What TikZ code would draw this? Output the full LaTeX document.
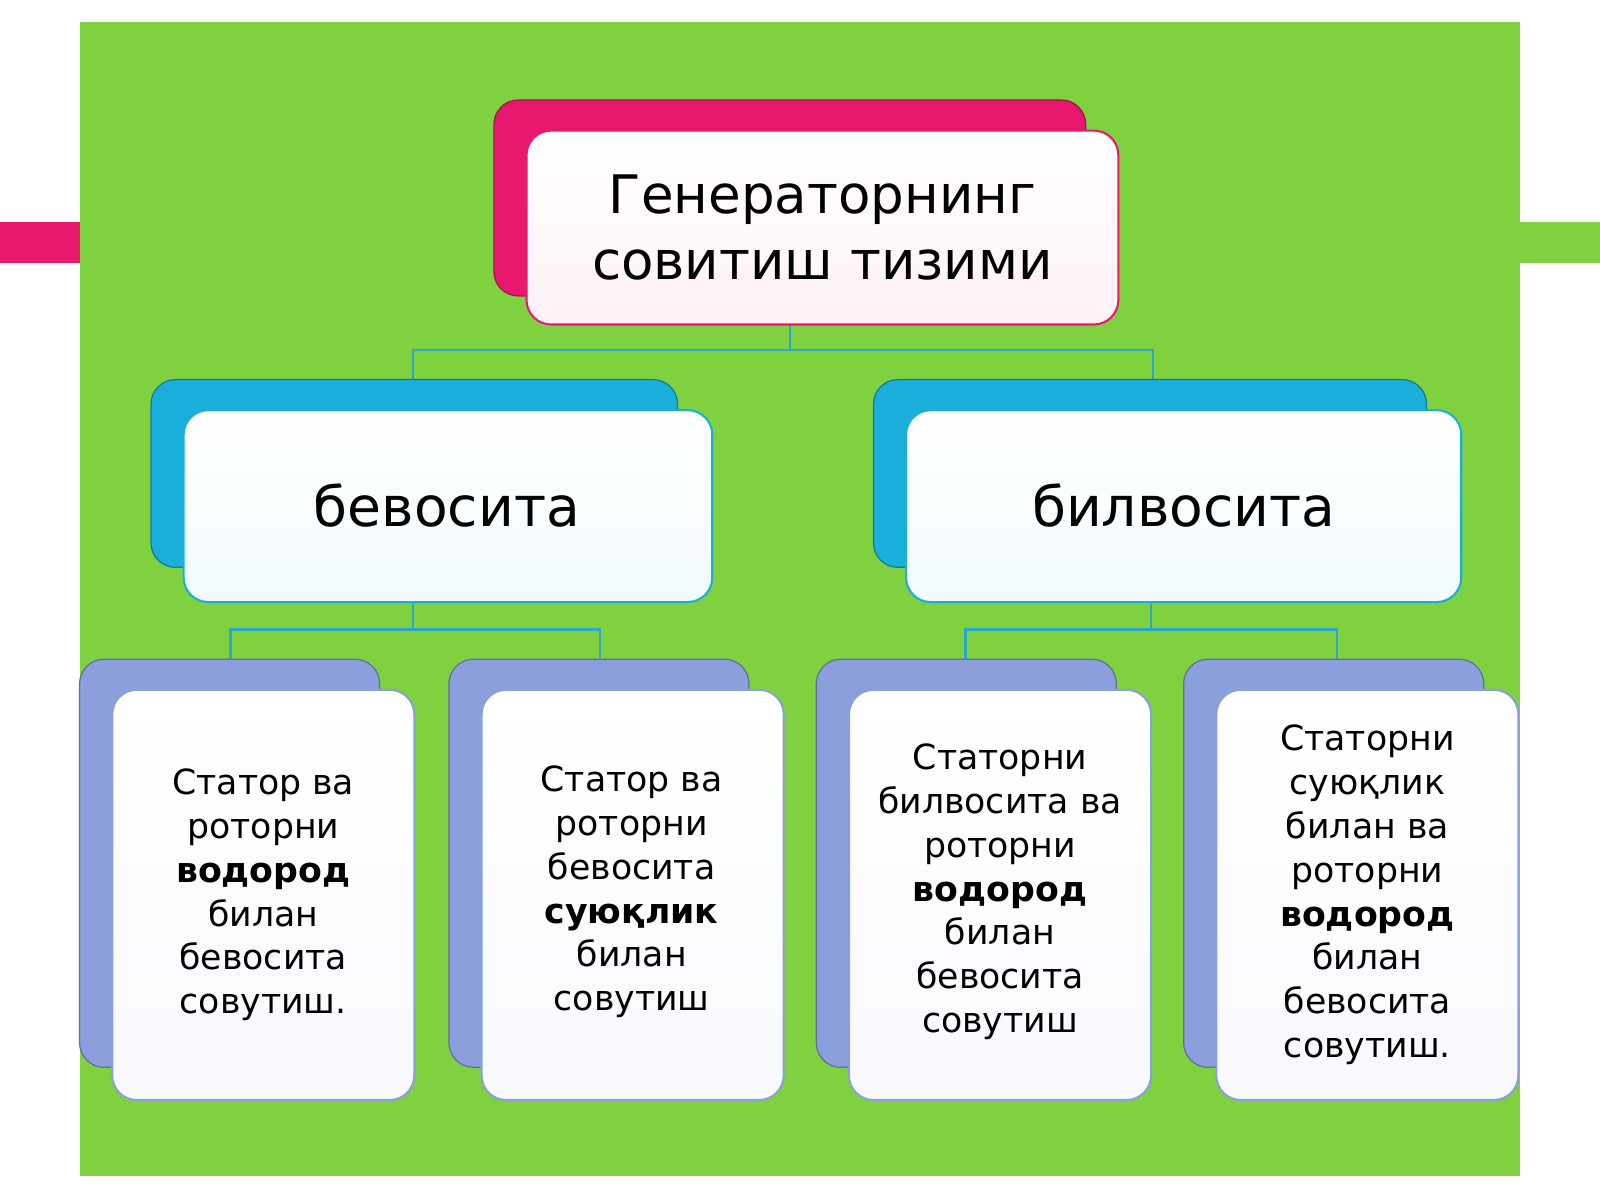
\documentclass[tikz,border=0pt]{standalone}
\usepackage{fontspec}
\setmainfont{DejaVu Sans}
\usetikzlibrary{positioning}
\definecolor{bggreen}{HTML}{7FD13F}
\definecolor{topback}{HTML}{E8186F}
\definecolor{midback}{HTML}{1AAEDB}
\definecolor{lowback}{HTML}{8A9FDB}
\definecolor{linkcol}{HTML}{2AA7C9}
\tikzset{
  back/.style={rounded corners=12pt,draw=#1!70!black,line width=0.6pt,fill=#1},
  front/.style={rounded corners=12pt,draw=#1,line width=1pt,top color=white,bottom color=white!94!#1},
  link/.style={linkcol,line width=1.2pt},
  txt/.style={align=center,font=\fontsize{17}{21.5}\selectfont}
}
\begin{document}
\begin{tikzpicture}[x=0.5pt,y=-0.5pt]
\useasboundingbox (0,0) rectangle (1568,1176);
    %Fondo
    \fill[white] (0,0) rectangle (1568,1176);
    \fill[topback] (0,218) rectangle (78,258);
    \fill[bggreen] (1490,218) rectangle (1568,258);
    \fill[bggreen] (78,22) rectangle (1490,1152);

    %Conectores
    \coordinate (t) at (774,318);
    \coordinate (tl) at (405,372);
    \coordinate (tr) at (1130,372);
    \draw[link] (t) -- (774,343) -| (tl);
    \draw[link] (774,343) -| (tr);
    \draw[link] (405,590) -- (405,617) -| (226,646);
    \draw[link] (405,617) -| (588,646);
    \draw[link] (1128,590) -- (1128,617) -| (946,646);
    \draw[link] (1128,617) -| (1310,646);

    %Caja superior
    \draw[back=topback] (484,98) rectangle (1064,290);
    \draw[front=topback] (516,128) rectangle (1096,318);
    \node[txt,font=\fontsize{26}{32}\selectfont] (top) at (806,223) {Генераторнинг\\совитиш тизими};

    %Cajas intermedias
    \draw[back=midback] (148,372) rectangle (664,556);
    \draw[front=midback] (180,402) rectangle (698,590);
    \node[txt,font=\fontsize{27}{31}\selectfont] (bev) at (438,495) {бевосита};
    \draw[back=midback] (856,372) rectangle (1398,556);
    \draw[front=midback] (888,402) rectangle (1432,590);
    \node[txt,font=\fontsize{27}{31}\selectfont] (bil) at (1160,495) {билвосита};

    %Cajas inferiores
    \foreach \x in {78,440,800,1160}{
        \draw[back=lowback] (\x,646) rectangle ({\x+294},1046);
        \draw[front=lowback] ({\x+32},676) rectangle ({\x+328},1078);
    }
    \node[txt] (a) at (258,877) {Статор ва\\роторни\\\textbf{водород}\\билан\\бевосита\\совутиш.};
    \node[txt] (b) at (619,874) {Статор ва\\роторни\\бевосита\\\textbf{суюқлик}\\билан\\совутиш};
    \node[txt] (c) at (980,874) {Статорни\\билвосита ва\\роторни\\\textbf{водород}\\билан\\бевосита\\совутиш};
    \node[txt] (d) at (1340,877) {Статорни\\суюқлик\\билан ва\\роторни\\\textbf{водород}\\билан\\бевосита\\совутиш.};
\end{tikzpicture}
\end{document}
